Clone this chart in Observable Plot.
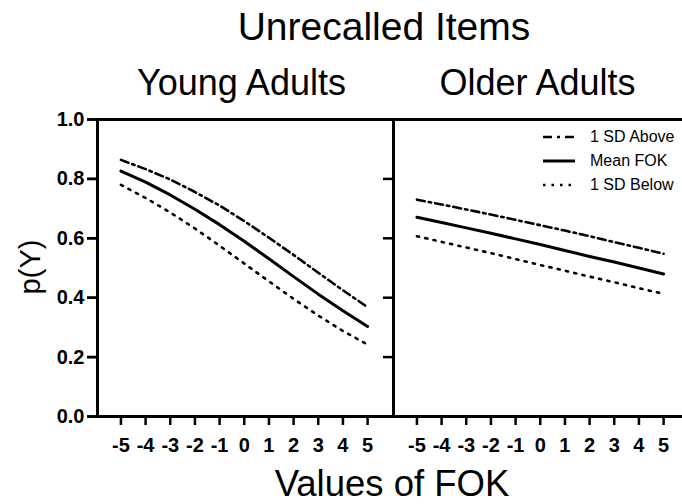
<!DOCTYPE html>
<html>
<head>
<meta charset="utf-8">
<script src="https://cdn.jsdelivr.net/npm/d3@7"></script>
<script src="https://cdn.jsdelivr.net/npm/@observablehq/plot@0.6"></script>
<style>
  html, body { margin: 0; padding: 0; background: #fff; overflow: hidden; }
  body { font-family: "Liberation Sans", Arial, sans-serif; color: #000; }
  #wrap { position: relative; width: 682px; height: 504px; overflow: hidden; }
  #chart { position: absolute; left: 0; top: 0; width: 700px; }
  #chart svg { max-width: none !important; }
  .txt { position: absolute; white-space: nowrap; line-height: 1; }
  #title { left: 384px; top: 7px; font-size: 39px; transform: translateX(-50%); }
  #xlabel { left: 392px; top: 466px; font-size: 36.5px; transform: translateX(-50%); }
  #ylabel { left: 30px; top: 267px; font-size: 29px; transform: translate(-50%, -50%) rotate(-90deg); }
  #legend { position: absolute; left: 543px; top: 125px; }
  .row { display: flex; align-items: center; height: 24px; }
  .row svg { width: 32px; height: 10px; margin-right: 15px; flex: none; }
  .row span { font-size: 16px; line-height: 1; white-space: nowrap; }
</style>
</head>
<body>
<div id="wrap">
  <div id="chart"></div>
  <div class="txt" id="title">Unrecalled Items</div>
  <div class="txt" id="ylabel">p(Y)</div>
  <div class="txt" id="xlabel">Values of FOK</div>
  <div id="legend"></div>
</div>
<script>
// ---- data ----
const fok = [-5, -4, -3, -2, -1, 0, 1, 2, 3, 4, 5];
const panels = ["Young Adults", "Older Adults"];
const series = ["1 SD Above", "Mean FOK", "1 SD Below"];
const youngAbove = [0.864, 0.833, 0.798, 0.756, 0.710, 0.658, 0.602, 0.544, 0.484, 0.425, 0.368];
const youngMean  = [0.826, 0.789, 0.746, 0.698, 0.646, 0.590, 0.531, 0.471, 0.412, 0.356, 0.303];
const youngBelow = [0.780, 0.736, 0.687, 0.633, 0.575, 0.515, 0.455, 0.396, 0.340, 0.288, 0.242];
const olderAbove = [0.730, 0.714, 0.697, 0.680, 0.662, 0.644, 0.626, 0.607, 0.587, 0.568, 0.548];
const olderMean  = [0.671, 0.653, 0.635, 0.617, 0.598, 0.579, 0.559, 0.539, 0.520, 0.500, 0.480];
const olderBelow = [0.607, 0.588, 0.569, 0.550, 0.530, 0.510, 0.491, 0.471, 0.452, 0.432, 0.413];
const yTicks = [0, 0.2, 0.4, 0.6, 0.8, 1.0];

// ---- build table ----
const byPanel = {
  "Young Adults": [youngAbove, youngMean, youngBelow],
  "Older Adults": [olderAbove, olderMean, olderBelow]
};
const rows = [];
panels.forEach(p => byPanel[p].forEach((vals, si) =>
  vals.forEach((v, i) => rows.push({panel: p, series: series[si], fok: fok[i], p: v}))));

const dashes = {"1 SD Above": "8,4,2.5,4", "Mean FOK": null, "1 SD Below": "2.2,6.3"};
const widths = {"1 SD Above": 2.6, "Mean FOK": 3, "1 SD Below": 2.6};

const chart = Plot.plot({
  width: 700,
  height: 504,
  marginLeft: 97,
  marginRight: 11,
  marginTop: 119,
  marginBottom: 88,
  style: {fontFamily: "Liberation Sans, Arial, sans-serif", background: "transparent", color: "#000", maxWidth: "none"},
  fx: {domain: panels, padding: 0, axis: null},
  x: {domain: [-5.95, 6.05], axis: null},
  y: {domain: [0, 1], axis: null},
  marks: [
    Plot.frame({stroke: "#000", strokeWidth: 3}),
    Plot.axisFx({anchor: "top", tickSize: 0, tickPadding: 25, fontSize: 36, label: null, dx: -4}),
    Plot.axisY({facetAnchor: null, ticks: yTicks, tickSize: 10, tickFormat: () => "", strokeWidth: 2.5, label: null}),
    Plot.axisY({ticks: yTicks, tickSize: 10, tickPadding: 3, tickFormat: d3.format(".1f"),
                fontSize: 20, fontWeight: "bold", strokeWidth: 2.5, label: null}),
    Plot.axisX({ticks: fok, tickSize: 9, tickPadding: 12, tickFormat: d => String(d),
                fontSize: 20, fontWeight: "bold", strokeWidth: 2.5, label: null}),
    ...series.map(s => Plot.line(rows.filter(r => r.series === s), {
      x: "fok", y: "p", fx: "panel", stroke: "#000",
      strokeWidth: widths[s], strokeDasharray: dashes[s]
    }))
  ]
});
document.getElementById("chart").append(chart);

// ---- legend ----
const legend = d3.select("#legend");
const legendDash = {"1 SD Above": "9,5,3,5", "Mean FOK": null, "1 SD Below": "2.5,6"};
series.forEach(s => {
  const row = legend.append("div").attr("class", "row");
  const svg = row.append("svg").attr("viewBox", "0 0 32 10");
  svg.append("line").attr("x1", 0).attr("x2", 32).attr("y1", 5).attr("y2", 5)
    .attr("stroke", "#000").attr("stroke-width", widths[s])
    .attr("stroke-dasharray", legendDash[s]);
  row.append("span").text(s);
});
</script>
</body>
</html>
